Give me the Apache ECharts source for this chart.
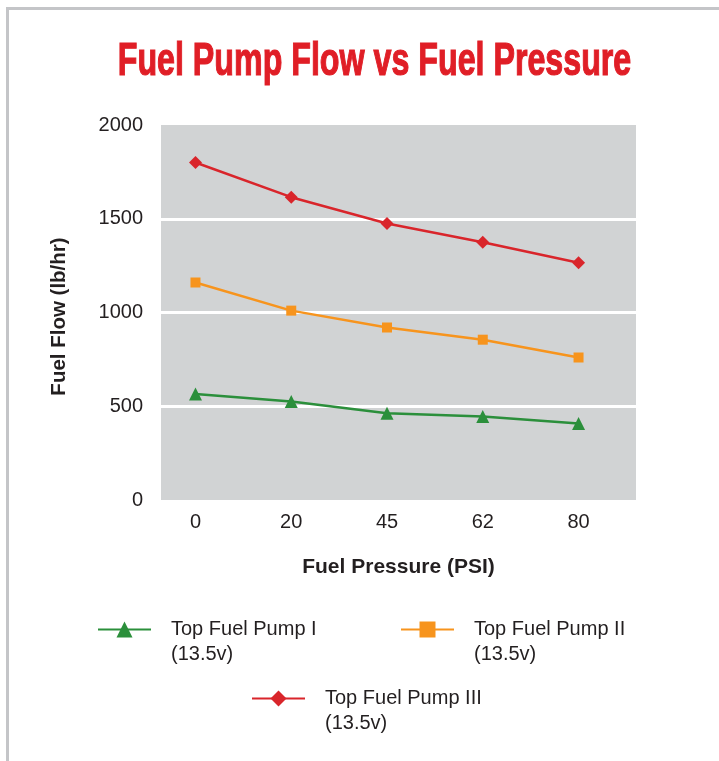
<!DOCTYPE html>
<html>
<head>
<meta charset="utf-8">
<script src="https://cdn.jsdelivr.net/npm/echarts@6/dist/echarts.min.js"></script>
<style>
    html, body {margin: 0; padding: 0; background: #fff;}
    #main {width: 719px; height: 761px;}
</style>
</head>
<body>
<div id="main"></div>
<script>
// pressure points (PSI) on x axis
var pressures = ['0', '20', '45', '62', '80'];
// fuel flow lb/hr
var pump1 = [565, 525, 463, 445, 408];
var pump2 = [1160, 1010, 920, 855, 760];
var pump3 = [1800, 1615, 1475, 1375, 1265];
var names = ['Top Fuel Pump I\n(13.5v)', 'Top Fuel Pump II\n(13.5v)', 'Top Fuel Pump III\n(13.5v)'];

function toPoints(arr) {
    return arr.map(function (v, i) {
        return [i, v];
    });
}

var textColor = '#231f20';
var legendText = {
    fontFamily: 'Liberation Sans, Arial, sans-serif',
    fontSize: 20,
    lineHeight: 25,
    color: textColor,
    padding: [0, 0, 0, 15]
};
// empty first line so the icon sits next to the first line of the name
function legendFmt(name) {
    return '\n' + name;
}

var myChart = echarts.init(document.getElementById('main'));
var option = {
    backgroundColor: '#fff',
    animation: false,
    textStyle: {fontFamily: 'Liberation Sans, Arial, sans-serif'},
    graphic: [
        // frame lines top/left
        {type: 'line', shape: {x1: 6, y1: 8.5, x2: 719, y2: 8.5}, style: {stroke: '#c4c5c8', lineWidth: 3}},
        {type: 'line', shape: {x1: 7.5, y1: 7, x2: 7.5, y2: 761}, style: {stroke: '#c4c5c8', lineWidth: 3}},
        {
            type: 'text',
            x: 374.5,
            y: 62,
            scaleX: 0.7,
            style: {
                text: 'Fuel Pump Flow vs Fuel Pressure',
                x: 0,
                y: 0,
                align: 'center',
                verticalAlign: 'middle',
                font: 'bold 46px "Liberation Sans", Arial, sans-serif',
                fill: '#e01e26',
                stroke: '#e01e26',
                lineWidth: 1.2
            }
        }
    ],
    grid: {
        left: 161,
        right: 83,
        top: 125,
        bottom: 261,
        show: true,
        backgroundColor: '#d1d3d4',
        borderWidth: 0
    },
    xAxis: {
        type: 'value',
        min: -0.36,
        max: 4.6,
        name: 'Fuel Pressure (PSI)',
        nameLocation: 'middle',
        nameGap: 57,
        nameTextStyle: {fontSize: 21, fontWeight: 'bold', color: textColor},
        axisLine: {show: false},
        axisTick: {show: false},
        splitLine: {show: false},
        axisLabel: {
            customValues: [0, 1, 2, 3, 4],
            fontSize: 20,
            color: textColor,
            margin: 12,
            formatter: function (v) {
                return pressures[Math.round(v)];
            }
        }
    },
    yAxis: {
        type: 'value',
        min: 0,
        max: 2000,
        interval: 500,
        name: 'Fuel Flow (lb/hr)',
        nameLocation: 'middle',
        nameGap: 91,
        nameTextStyle: {fontSize: 20.5, fontWeight: 'bold', color: textColor, padding: [0, 8, 0, 0]},
        axisLine: {show: false},
        axisTick: {show: false},
        axisLabel: {
            fontSize: 20,
            color: textColor,
            margin: 18,
            formatter: function (v) {
                return String(v);
            }
        },
        splitLine: {
            show: true,
            showMinLine: false,
            showMaxLine: false,
            lineStyle: {color: '#fff', width: 3}
        }
    },
    legend: [
        {data: [names[0]], left: 97, top: 592, itemWidth: 53, itemHeight: 20, selectedMode: false, padding: 0, formatter: legendFmt, textStyle: legendText},
        {data: [names[1]], left: 400, top: 592, itemWidth: 53, itemHeight: 20, selectedMode: false, padding: 0, formatter: legendFmt, textStyle: legendText},
        {data: [names[2]], left: 251, top: 661, itemWidth: 53, itemHeight: 20, selectedMode: false, padding: 0, formatter: legendFmt, textStyle: legendText}
    ],
    series: [
        {
            name: names[0],
            type: 'line',
            data: toPoints(pump1),
            symbol: 'triangle',
            symbolSize: 13,
            color: '#2b8f3b',
            lineStyle: {width: 2.5}
        },
        {
            name: names[1],
            type: 'line',
            data: toPoints(pump2),
            symbol: 'rect',
            symbolSize: 10,
            color: '#f7941d',
            lineStyle: {width: 2.5}
        },
        {
            name: names[2],
            type: 'line',
            data: toPoints(pump3),
            symbol: 'diamond',
            symbolSize: 13,
            color: '#d9252b',
            lineStyle: {width: 2.5}
        }
    ]
};
myChart.setOption(option);
</script>
</body>
</html>
